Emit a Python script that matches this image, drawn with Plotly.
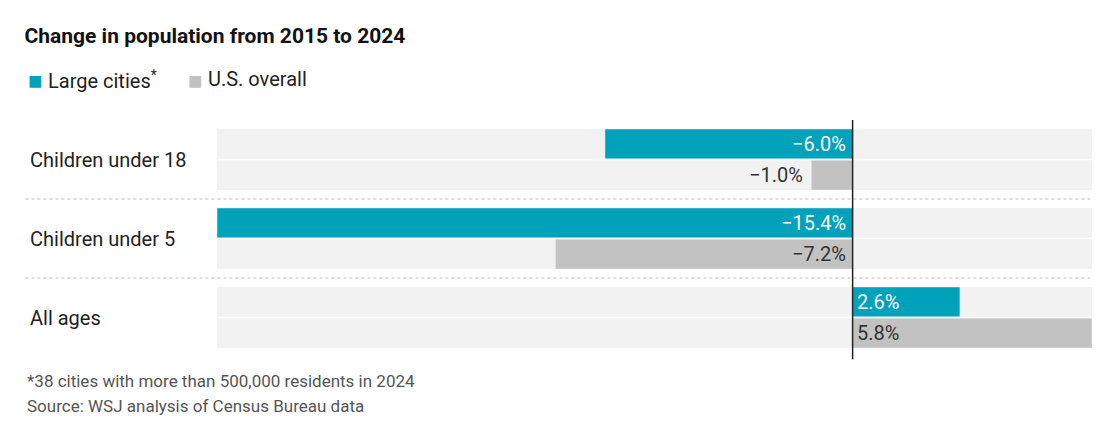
import plotly.graph_objects as go

categories = ["Children under 18", "Children under 5", "All ages"]
large_cities = [-6.0, -15.4, 2.6]
us_overall = [-1.0, -7.2, 5.8]
series_names = ["Large cities*", "U.S. overall"]

TEAL = "#00a2bb"
GRAY = "#c2c2c2"
FONT = "Roboto"
off = 0.198
bw = 0.377

fig = go.Figure()
ys = list(range(len(categories)))
fig.add_trace(go.Bar(y=[y - off for y in ys], x=large_cities, orientation="h",
                     width=bw, marker_color=TEAL, name=series_names[0], hoverinfo="x"))
fig.add_trace(go.Bar(y=[y + off for y in ys], x=us_overall, orientation="h",
                     width=bw, marker_color=GRAY, name=series_names[1], hoverinfo="x"))

shapes = []
ann = []
for i, cat in enumerate(categories):
    for o in (-off, off):
        shapes.append(dict(type="rect", xref="paper", yref="y", x0=0, x1=1,
                           y0=i + o - bw / 2, y1=i + o + bw / 2,
                           fillcolor="#f2f2f2", line_width=0, layer="below"))
    ann.append(dict(xref="paper", yref="y", x=-0.216, y=i, text=cat, showarrow=False,
                    xanchor="left", font=dict(size=20, color="#222")))
    for vals, o, inside_col in ((large_cities, -off, "white"), (us_overall, off, "#333")):
        v = vals[i]
        txt = ("−" if v < 0 else "") + f"{abs(v):.1f}%"
        if abs(v) < 1.5:
            ann.append(dict(x=v, y=i + o, text=txt, showarrow=False, xanchor="right",
                            xshift=-6 if v < 0 else 6, font=dict(size=20, color="#333")))
        else:
            ann.append(dict(x=0, y=i + o, text=txt, showarrow=False,
                            xanchor="right" if v < 0 else "left",
                            xshift=-5 if v < 0 else 2, font=dict(size=20, color=inside_col)))
for s in (0.5, 1.5):
    shapes.append(dict(type="line", xref="paper", yref="y", x0=-0.219, x1=1, y0=s, y1=s,
                       line=dict(color="#bbb", width=1, dash="dot")))
shapes.append(dict(type="line", xref="x", yref="paper", x0=0, x1=0, y0=-0.01, y1=1.0,
                   line=dict(color="#222", width=1.5)))

LY = 1.23
ann += [
    dict(xref="paper", yref="paper", x=-0.218, y=LY, text="■", showarrow=False, xanchor="left",
         font=dict(size=24, color=TEAL)),
    dict(xref="paper", yref="paper", x=-0.195, y=LY, text="Large cities<sup>*</sup>", showarrow=False,
         xanchor="left", font=dict(size=20, color="#222")),
    dict(xref="paper", yref="paper", x=-0.036, y=LY, text="■", showarrow=False, xanchor="left",
         font=dict(size=24, color=GRAY)),
    dict(xref="paper", yref="paper", x=-0.013, y=LY, text="U.S. overall", showarrow=False,
         xanchor="left", font=dict(size=20, color="#222")),
    dict(xref="paper", yref="paper", x=-0.219, y=-0.05, text="*38 cities with more than 500,000 residents in 2024",
         showarrow=False, xanchor="left", yanchor="top", font=dict(size=17, color="#555")),
    dict(xref="paper", yref="paper", x=-0.219, y=-0.155, text="Source: WSJ analysis of Census Bureau data",
         showarrow=False, xanchor="left", yanchor="top", font=dict(size=17, color="#555")),
]

fig.update_layout(
    width=1104, height=411, margin=dict(l=209, r=20, t=112, b=62),
    plot_bgcolor="white", paper_bgcolor="white", showlegend=False, barmode="overlay",
    font=dict(family=FONT),
    title=dict(text="<b>Change in population from 2015 to 2024</b>", x=0.015, xanchor="left",
               y=0.95, font=dict(size=21, color="#111")),
    xaxis=dict(range=[-15.4, 5.8], visible=False),
    yaxis=dict(range=[2.5, -0.5], visible=False),
    shapes=shapes, annotations=ann,
)
fig.write_html("out.html")
